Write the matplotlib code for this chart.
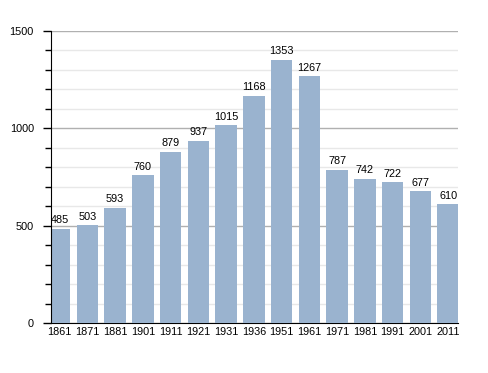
import matplotlib
matplotlib.use("Agg")
import matplotlib.pyplot as plt
from matplotlib.ticker import MultipleLocator

years = ["1861", "1871", "1881", "1901", "1911", "1921", "1931", "1936",
         "1951", "1961", "1971", "1981", "1991", "2001", "2011"]
population = [485, 503, 593, 760, 879, 937, 1015, 1168, 1353, 1267,
              787, 742, 722, 677, 610]

plt.rcParams['font.family'] = ['Liberation Sans', 'DejaVu Sans']

fig = plt.figure(figsize=(4.88, 3.73), dpi=100)
ax = fig.add_axes([0.1035, 0.134, 0.836, 0.783])

x = list(range(len(years)))
bars = ax.bar(x, population, width=0.775, color="#9ab3cf", zorder=3)
for xi, v in zip(x, population):
    ax.text(xi, v + 18, str(v), ha="center", va="bottom", fontsize=7.8, color="#000000", zorder=4)

ax.set_xlim(-0.33, len(years) - 1 + 0.37)
ax.set_ylim(0, 1500)
ax.set_xticks(x)
ax.set_xticklabels(years, fontsize=7.8)
ax.yaxis.set_major_locator(MultipleLocator(500))
ax.yaxis.set_minor_locator(MultipleLocator(100))
ax.tick_params(axis="y", which="major", length=6, width=1, labelsize=7.8, direction="out", pad=6)
ax.tick_params(axis="y", which="minor", length=4, width=1, direction="out")
ax.tick_params(axis="x", length=0, pad=3)
ax.grid(axis="y", which="major", color="#b0b0b0", linewidth=1, zorder=0)
ax.grid(axis="y", which="minor", color="#e8e8e8", linewidth=1, zorder=0)
for s in ["top", "right"]:
    ax.spines[s].set_visible(False)
ax.spines["left"].set_color("black")
ax.spines["bottom"].set_color("black")
ax.spines["left"].set_zorder(5)

fig.savefig("out.png", dpi=100)
